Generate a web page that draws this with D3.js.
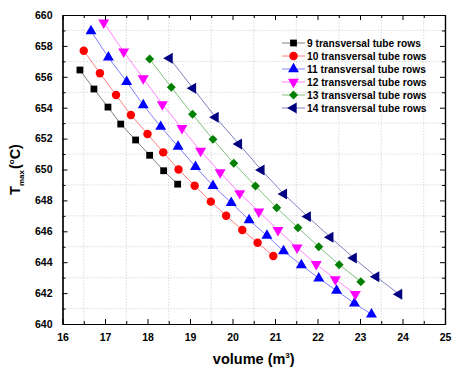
<!DOCTYPE html>
<html>
<head>
<meta charset="utf-8">
<script src="https://cdn.jsdelivr.net/npm/d3@7"></script>
<style>
  body { margin: 0; background: white; }
  text { font-family: "Liberation Sans", Arial, sans-serif; font-weight: bold; }
</style>
</head>
<body>
<div id="chart"></div>
<script>
// series data: volume (m3) and Tmax (C)
const names = ["9 transversal tube rows", "10 transversal tube rows", "11 transversal tube rows",
               "12 transversal tube rows", "13 transversal tube rows", "14 transversal tube rows"];

const vol9  = [16.41, 16.74, 17.07, 17.37, 17.72, 18.05, 18.38, 18.71];
const temp9 = [656.44, 655.21, 654.04, 652.94, 651.91, 650.92, 649.92, 649.05];

const vol10  = [16.50, 16.88, 17.26, 17.61, 18.00, 18.37, 18.73, 19.11, 19.49, 19.85, 20.23, 20.59, 20.96];
const temp10 = [657.69, 656.23, 654.82, 653.53, 652.30, 651.11, 650.00, 648.95, 647.92, 647.01, 646.09, 645.26, 644.40];

const vol11  = [16.67, 17.08, 17.51, 17.90, 18.31, 18.72, 19.13, 19.54, 19.97, 20.39, 20.81, 21.20, 21.62, 22.03, 22.45, 22.87, 23.27];
const temp11 = [658.96, 657.26, 655.68, 654.17, 652.77, 651.48, 650.18, 648.95, 647.85, 646.73, 645.72, 644.72, 643.82, 642.96, 642.16, 641.34, 640.63];

const vol12  = [16.97, 17.44, 17.90, 18.35, 18.81, 19.25, 19.71, 20.17, 20.62, 21.07, 21.52, 21.97, 22.42, 22.89];
const temp12 = [659.50, 657.62, 655.90, 654.22, 652.67, 651.20, 649.81, 648.46, 647.27, 646.08, 644.94, 643.88, 642.89, 641.93];

const vol13  = [18.05, 18.56, 19.06, 19.54, 20.03, 20.54, 21.04, 21.54, 22.03, 22.51, 23.02];
const temp13 = [657.15, 655.32, 653.57, 651.95, 650.40, 648.93, 647.53, 646.23, 645.00, 643.84, 642.74];

const vol14  = [18.52, 19.07, 19.60, 20.15, 20.68, 21.21, 21.77, 22.30, 22.85, 23.38, 23.92];
const temp14 = [657.20, 655.26, 653.38, 651.65, 649.97, 648.41, 646.95, 645.62, 644.27, 643.06, 641.93];

const xTicks = [16, 17, 18, 19, 20, 21, 22, 23, 24, 25];
const yTicks = [640, 642, 644, 646, 648, 650, 652, 654, 656, 658, 660];

const W = 454, H = 376;
const margin = { left: 62.5, right: 9, top: 15, bottom: 52 };

const markerColors = ["#000000", "#ff0000", "#0000ff", "#ff00ff", "#008000", "#000080"];
const lineColors = ["#808080", "#ff8080", "#8080ff", "#ff80ff", "#80c080", "#8080c0"];
const shapes = [
  { type: d3.symbolSquare, size: 46, rot: 0 },
  { type: d3.symbolCircle, size: 56, rot: 0 },
  { type: d3.symbolTriangle, size: 52, rot: 0 },
  { type: d3.symbolTriangle, size: 52, rot: 180 },
  { type: d3.symbolSquare, size: 40, rot: 45 },
  { type: d3.symbolTriangle, size: 52, rot: -90 }
];

const vols = [vol9, vol10, vol11, vol12, vol13, vol14];
const temps = [temp9, temp10, temp11, temp12, temp13, temp14];
const series = names.map((n, i) => ({
  name: n, i: i,
  pts: vols[i].map((v, j) => ({ v: v, t: temps[i][j] }))
}));

const svg = d3.select("#chart").append("svg").attr("width", W).attr("height", H);

const x = d3.scaleLinear().domain([16, 25]).range([margin.left, W - margin.right]);
const y = d3.scaleLinear().domain([640, 660]).range([H - margin.bottom, margin.top]);

const x0 = x.range()[0], x1 = x.range()[1], y0 = y.range()[0], y1 = y.range()[1];

// dotted grid on the minor ticks
const xMinor = d3.range(16.5, 25, 1);
const yMinor = d3.range(641, 660, 2);
const grid = svg.append("g").attr("stroke", "#d0d0d0").attr("stroke-dasharray", "1.5,1.5").attr("stroke-width", 0.8);
grid.selectAll(".gx").data(xMinor).enter().append("line")
  .attr("x1", d => x(d)).attr("x2", d => x(d)).attr("y1", y0).attr("y2", y1);
grid.selectAll(".gy").data(yMinor).enter().append("line")
  .attr("y1", d => y(d)).attr("y2", d => y(d)).attr("x1", x0).attr("x2", x1);

// lines
const line = d3.line().x(d => x(d.v)).y(d => y(d.t));
svg.append("g").selectAll("path").data(series).enter().append("path")
  .attr("d", d => line(d.pts)).attr("fill", "none")
  .attr("stroke", d => lineColors[d.i]).attr("stroke-width", 1);

// markers
function marker(sel, i) {
  const s = shapes[i];
  sel.attr("d", d3.symbol().type(s.type).size(s.size)())
    .attr("fill", markerColors[i]);
}
series.forEach(s => {
  svg.append("g").selectAll("path").data(s.pts).enter().append("path")
    .call(marker, s.i)
    .attr("transform", d => "translate(" + x(d.v) + "," + y(d.t) + ") rotate(" + shapes[s.i].rot + ")");
});

// axes with inward ticks, mirrored on top/right
const fmt = d3.format("d");
svg.append("g").attr("transform", "translate(0," + y0 + ")")
  .call(d3.axisBottom(x).tickValues(xTicks).tickFormat(fmt).tickSizeInner(-5).tickSizeOuter(0).tickPadding(10));
svg.append("g").attr("transform", "translate(0," + y0 + ")")
  .call(d3.axisBottom(x).tickValues(xMinor).tickFormat("").tickSizeInner(-3).tickSizeOuter(0));
svg.append("g").attr("transform", "translate(0," + y1 + ")")
  .call(d3.axisTop(x).tickValues(xTicks).tickFormat("").tickSizeInner(-5).tickSizeOuter(0));
svg.append("g").attr("transform", "translate(0," + y1 + ")")
  .call(d3.axisTop(x).tickValues(xMinor).tickFormat("").tickSizeInner(-3).tickSizeOuter(0));
svg.append("g").attr("transform", "translate(" + x0 + ",0)")
  .call(d3.axisLeft(y).tickValues(yTicks).tickFormat(fmt).tickSizeInner(-5).tickSizeOuter(0).tickPadding(10));
svg.append("g").attr("transform", "translate(" + x0 + ",0)")
  .call(d3.axisLeft(y).tickValues(yMinor).tickFormat("").tickSizeInner(-3).tickSizeOuter(0));
svg.append("g").attr("transform", "translate(" + x1 + ",0)")
  .call(d3.axisRight(y).tickValues(yTicks).tickFormat("").tickSizeInner(-5).tickSizeOuter(0));
svg.append("g").attr("transform", "translate(" + x1 + ",0)")
  .call(d3.axisRight(y).tickValues(yMinor).tickFormat("").tickSizeInner(-3).tickSizeOuter(0));

svg.selectAll(".tick text").attr("font-size", 10.5).attr("fill", "#000")
  .attr("font-family", "'Liberation Sans', Arial, sans-serif").attr("font-weight", "bold");
svg.selectAll(".domain").attr("stroke", "#000").attr("stroke-width", 1.2);

// axis titles
const xt = svg.append("text").attr("x", (x0 + x1) / 2).attr("y", 364)
  .attr("text-anchor", "middle").attr("font-size", 14.5);
xt.append("tspan").text("volume (m");
xt.append("tspan").text("3").attr("font-size", 8).attr("dy", -6);
xt.append("tspan").text(")").attr("dy", 6);

const yt = svg.append("text").attr("transform", "translate(20," + ((y0 + y1) / 2) + ") rotate(-90)")
  .attr("text-anchor", "middle").attr("font-size", 14.5);
yt.append("tspan").text("T");
yt.append("tspan").text("max").attr("font-size", 8).attr("dy", 4);
yt.append("tspan").text("(").attr("dy", -4).attr("dx", 1);
yt.append("tspan").text("o").attr("font-size", 8).attr("dy", -6);
yt.append("tspan").text("C)").attr("dy", 6);

// legend
const lg = svg.append("g").attr("transform", "translate(282,43)");
const items = lg.selectAll("g").data(series).enter().append("g")
  .attr("transform", (d, i) => "translate(0," + (i * 13) + ")");
items.append("line").attr("x1", 0).attr("x2", 23).attr("y1", 0).attr("y2", 0)
  .attr("stroke", d => lineColors[d.i]).attr("stroke-width", 1);
items.append("path").each(function(d) { d3.select(this).call(marker, d.i); })
  .attr("transform", d => "translate(11.5,0) rotate(" + shapes[d.i].rot + ")");
items.append("text").attr("x", 25).attr("y", 0).attr("dy", "0.35em")
  .attr("font-size", 10.2).text(d => d.name);
</script>
</body>
</html>
